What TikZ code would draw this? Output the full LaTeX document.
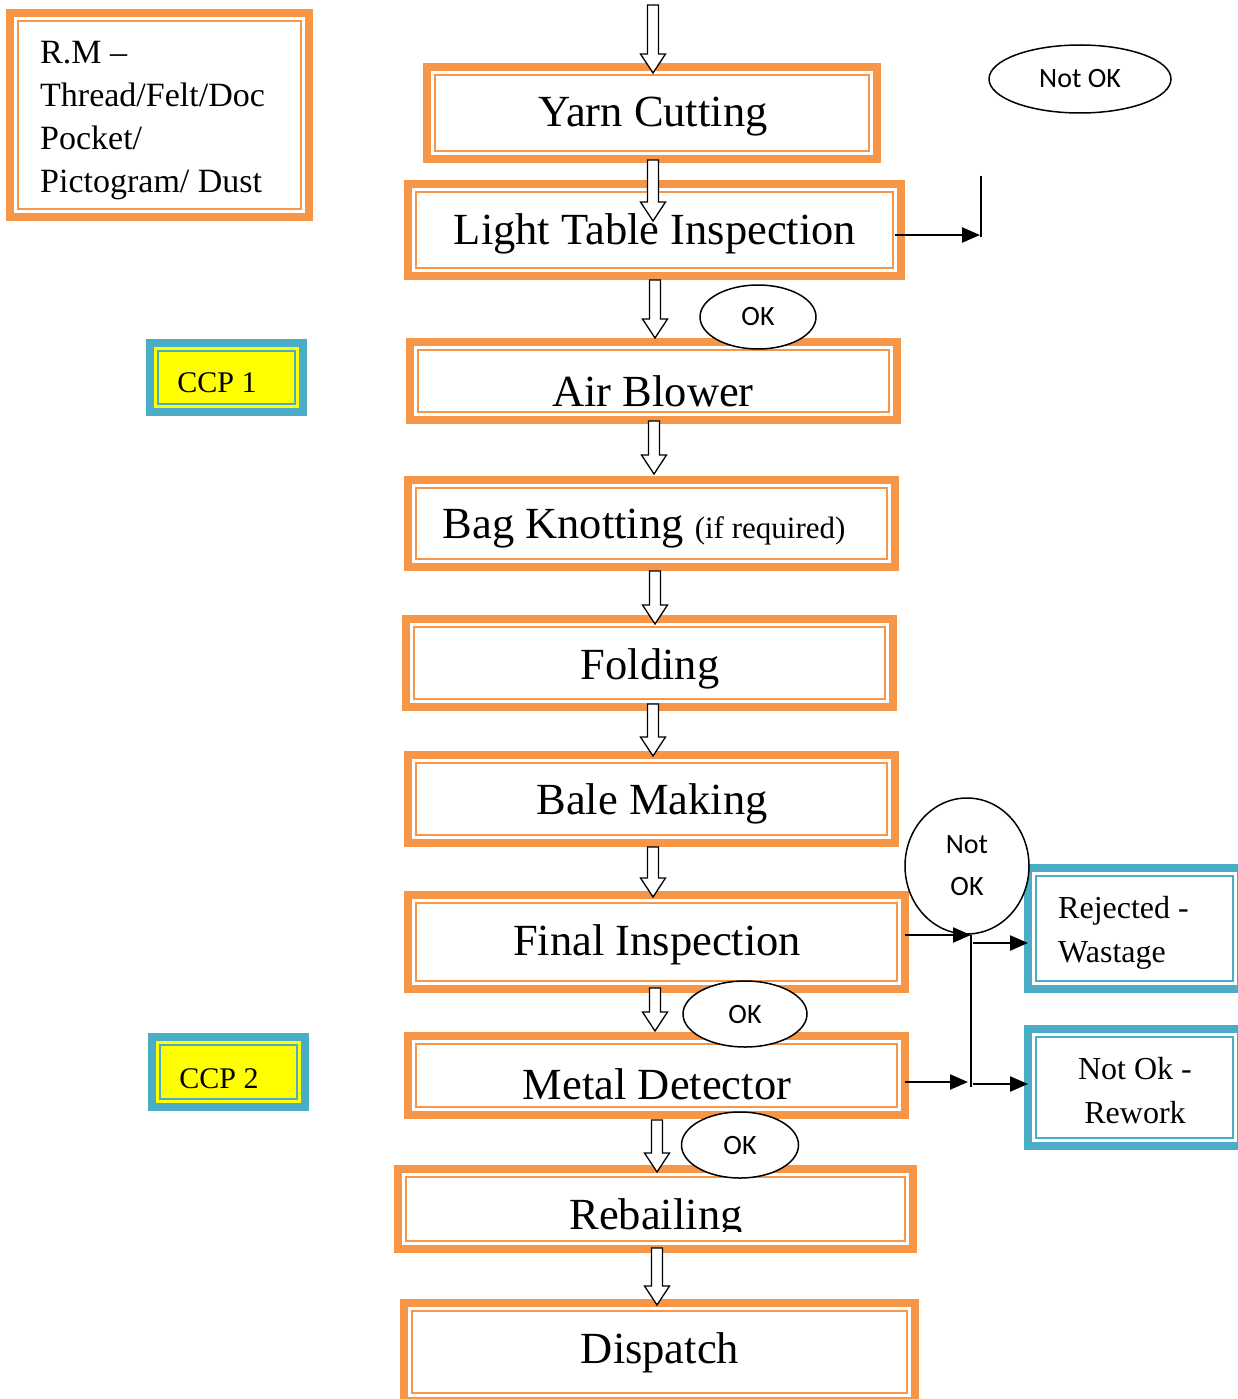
\documentclass[tikz,border=0pt]{standalone}
\usepackage{fontspec}
\setmainfont{Liberation Serif}
\newfontfamily\ovalfont{Carlito}
\usetikzlibrary{arrows.meta,shapes.geometric,calc}
\definecolor{OrangeC}{HTML}{F79646}
\definecolor{BlueC}{HTML}{4BACC6}
\definecolor{YellowC}{HTML}{FFFF00}
\newcommand\mainfs{\fontsize{44.5}{53}\selectfont}
% name, x1, y1, x2, y2, colour, fill
\newcommand\dblbox[7]{%
  \node[draw=#6, fill=#7, line width=8pt, inner sep=0pt, outer sep=0pt,
        minimum width={#4-#2-8}, minimum height={#5-#3-8}]
        (#1) at ({(#2+#4)/2},{(#3+#5)/2}) {};
  \draw[#6, line width=2pt] ([xshift=8pt,yshift=8pt]#1.south west)
        rectangle ([xshift=-8pt,yshift=-8pt]#1.north east);
}
% hollow block arrow: x, ytop, ytip
\newcommand\harrow[3]{%
  \draw[black, line width=1.3pt, fill=white, line join=miter]
    (#1-5.5,#2) -- (#1+5.5,#2) -- (#1+5.5,#3-19) -- (#1+12.5,#3-19) -- (#1,#3)
    -- (#1-12.5,#3-19) -- (#1-5.5,#3-19) -- cycle;
}
\tikzset{
  oval/.style={ellipse, draw=black, line width=1.5pt, fill=white, inner sep=0pt,
               font=\ovalfont\fontsize{28}{42}\selectfont},
  larrow/.style={line width=2.3pt, -{Triangle[length=18pt,width=15pt]}},
  plainline/.style={line width=2.3pt},
  btext/.style={inner sep=0pt, font=\mainfs},
}
\begin{document}
\begin{tikzpicture}[x=1pt,y=-1pt]
\useasboundingbox (0,0) rectangle (1238,1399);
\fill[white] (0,0) rectangle (1238,1399);

% boxes
\dblbox{rm}{6}{9}{313}{221}{OrangeC}{white}
\dblbox{yarn}{423}{63}{881}{163}{OrangeC}{white}
\dblbox{light}{404}{180}{905}{280}{OrangeC}{white}
\dblbox{air}{406}{338}{901}{424}{OrangeC}{white}
\dblbox{bag}{404}{476}{899}{571}{OrangeC}{white}
\dblbox{fold}{402}{615}{897}{711}{OrangeC}{white}
\dblbox{bale}{404}{751}{899}{847}{OrangeC}{white}
\dblbox{final}{404}{891}{909}{993}{OrangeC}{white}
\dblbox{metal}{404}{1032}{909}{1119}{OrangeC}{white}
\dblbox{rebail}{394}{1165}{917}{1253}{OrangeC}{white}
\dblbox{disp}{400}{1299}{919}{1405}{OrangeC}{white}
\dblbox{ccp1}{146}{339}{307}{416}{BlueC}{YellowC}
\dblbox{ccp2}{148}{1033}{309}{1111}{BlueC}{YellowC}
\dblbox{rej}{1024}{864}{1245}{993}{BlueC}{white}
\dblbox{rew}{1024}{1025}{1245}{1150}{BlueC}{white}

% texts
\node[inner sep=0pt, anchor=west, align=left, font=\fontsize{34}{43}\selectfont] (rmt) at (40,121)
  {R.M --\\Thread/Felt/Doc\\Pocket/\\Pictogram/ Dust};
\node[btext] (yarnt) at (653,117) {Yarn Cutting};
\node[btext] (lightt) at (655,234) {Light Table Inspection};
\node[btext] (airt) at (653,391) {Air Blower};
\node[btext] (bagt) at (644,529) {Bag Knotting {\fontsize{31}{36}\selectfont (if required)}};
\node[btext] (foldt) at (650,669) {Folding};
\node[btext] (balet) at (652,804) {Bale Making};
\node[btext] (finalt) at (657,945) {Final Inspection};
\node[btext] (metalt) at (657,1084) {Metal Detector};
\begin{scope}
  \clip (394,1150) rectangle (917,1231);
  \node[btext] (rebailt) at (656,1219) {Rebailing};
\end{scope}
\node[btext] (dispt) at (660,1353) {Dispatch};
\node[inner sep=0pt, font=\fontsize{30}{36}\selectfont] (ccp1t) at (217,383) {CCP 1};
\node[inner sep=0pt, font=\fontsize{30}{36}\selectfont] (ccp2t) at (219,1079) {CCP 2};
\node[inner sep=0pt, anchor=west, align=left, font=\fontsize{32}{44}\selectfont] (rejt) at (1058,933) {Rejected -\\Wastage};
\node[inner sep=0pt, align=center, font=\fontsize{32}{44}\selectfont] (rewt) at (1135,1091) {Not Ok -\\Rework};

% hollow arrows
\harrow{653}{5}{73}
\harrow{653}{160}{221}
\harrow{655}{280}{338}
\harrow{654}{421}{474}
\harrow{655}{571}{624}
\harrow{653}{704}{756}
\harrow{653}{847}{897}
\harrow{655}{988}{1031}
\harrow{657}{1120}{1172}
\harrow{657}{1248}{1305}

% ovals
\node[oval, minimum width=182, minimum height=68] (notok1) at (1080,79) {Not OK};
\node[oval, minimum width=116, minimum height=64] (ok1) at (758,317) {OK};
\node[oval, minimum width=124, minimum height=136, align=center] (notok2) at (967,866) {Not\\OK};
\node[oval, minimum width=124, minimum height=66] (ok2) at (745,1014) {OK};
\node[oval, minimum width=117, minimum height=66] (ok3) at (740,1145) {OK};

% line connectors
\coordinate (ltop) at (981,176);
\coordinate (lbot) at (981,237);
\draw[plainline] (ltop) -- (lbot);
\draw[larrow] ([xshift=-6pt]light.east |- 0,235) -- (980,235);

\coordinate (jtop) at (971,935);
\coordinate (jbot) at (971,1087);
\draw[plainline] (jtop) -- (jbot);
\draw[larrow] (final.east |- jtop) -- (jtop);
\draw[larrow] (973,943) -- (rej.west |- 0,943);
\draw[larrow] (metal.east |- 0,1082) -- (968,1082);
\draw[larrow] (973,1084) -- (rew.west |- 0,1084);
\end{tikzpicture}
\end{document}
